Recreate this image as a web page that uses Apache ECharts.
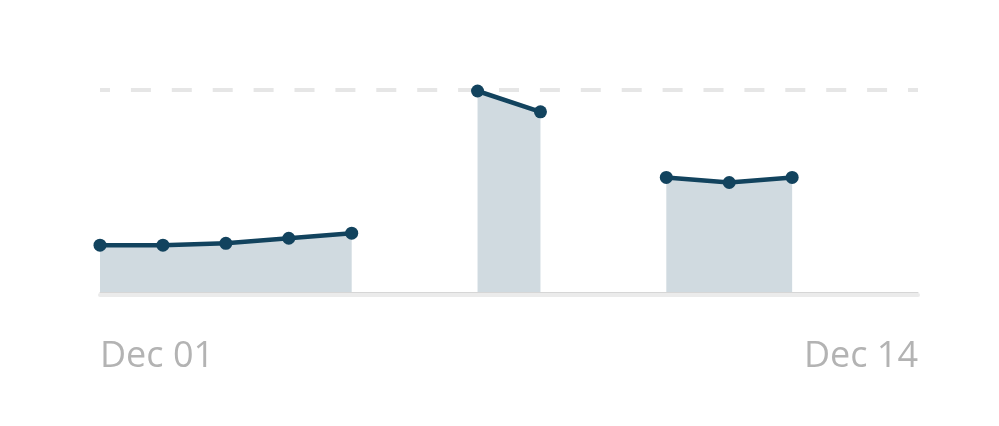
<!DOCTYPE html>
<html>
<head>
<meta charset="utf-8">
<script src="https://cdn.jsdelivr.net/npm/echarts@6/dist/echarts.min.js"></script>
<style>html,body{margin:0;padding:0;background:#fff;}#c{width:999px;height:426px;}</style>
</head>
<body>
<div id="c"></div>
<script>
var categories = ['Dec 01','Dec 02','Dec 03','Dec 04','Dec 05','Dec 06','Dec 07','Dec 08','Dec 09','Dec 10','Dec 11','Dec 12','Dec 13','Dec 14'];
var values = [23.2, 23.2, 24.1, 26.6, 29.1, null, 99.5, 89.2, null, 56.7, 54.2, 56.7, null, null];
var yMax = 100;

var chart = echarts.init(document.getElementById('c'));
chart.setOption({
  animation: false,
  grid: {left: 100, right: 81, top: 90, bottom: 134},
  xAxis: [{
    type: 'category',
    data: categories,
    boundaryGap: false,
    axisLine: {show: true, lineStyle: {color: '#d6d6d6', width: 1}},
    axisTick: {show: false},
    splitLine: {show: false},
    axisLabel: {
      interval: function (i) { return i === 0 || i === categories.length - 1; },
      alignMinLabel: 'left',
      alignMaxLabel: 'right',
      color: '#b3b3b3',
      fontSize: 36,
      fontFamily: 'Open Sans',
      margin: 47
    }
  }, {
    type: 'category',
    data: categories,
    boundaryGap: false,
    position: 'bottom',
    offset: 3,
    axisLine: {show: true, lineStyle: {color: '#ebebeb', width: 4}},
    axisTick: {show: false},
    axisLabel: {show: false},
    splitLine: {show: false}
  }],
  yAxis: {
    type: 'value',
    min: 0,
    max: yMax,
    interval: yMax,
    axisLine: {show: false},
    axisTick: {show: false},
    axisLabel: {show: false},
    splitLine: {show: true, lineStyle: {color: ['transparent', '#e6e6e6'], width: 4, type: [20, 20.9], dashOffset: 10}}
  },
  series: [{
    type: 'line',
    data: values,
    connectNulls: false,
    symbol: 'circle',
    symbolSize: 13,
    showAllSymbol: true,
    lineStyle: {color: '#12435e', width: 4.5},
    itemStyle: {color: '#12435e'},
    areaStyle: {color: '#d0dae0', opacity: 1}
  }]
});
</script>
</body>
</html>
